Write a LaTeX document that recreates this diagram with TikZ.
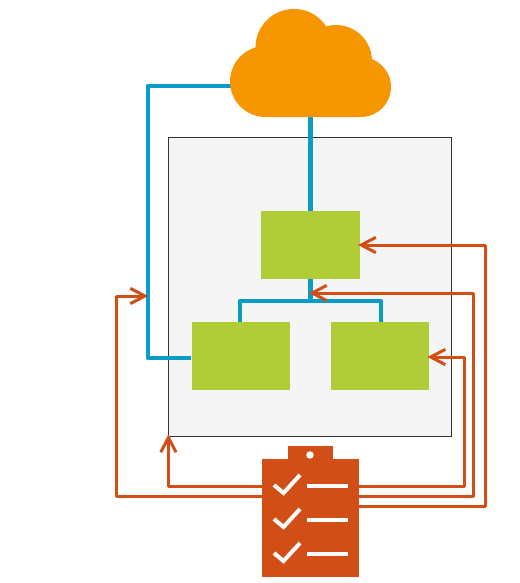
\documentclass[tikz,border=0pt]{standalone}
\usetikzlibrary{arrows.meta,calc}
\definecolor{bluel}{HTML}{0A9CC8}
\definecolor{orangel}{HTML}{D14F17}
\definecolor{cloudc}{HTML}{F59600}
\definecolor{greenb}{HTML}{B0CD37}
\definecolor{panel}{HTML}{F5F5F5}
\definecolor{edge}{HTML}{333333}
\tikzset{
  greenbox/.style={rectangle,fill=greenb,inner sep=0pt,minimum width=74pt,minimum height=51pt},
  panelbox/.style={rectangle,draw=edge,line width=0.75pt,fill=panel,inner sep=0pt,minimum width=212pt,minimum height=224.25pt},
  ghost/.style={rectangle,inner sep=0pt},
  blueline/.style={draw=bluel,line width=3.5pt,line join=round},
  redline/.style={draw=orangel,line width=2.25pt,line join=round},
  redarrow/.style={redline,shorten >=-1.6pt,-{Straight Barb[length=11pt,width=11.5pt,line width=2.25pt]}},
  tick/.style={draw=white,line width=3pt,line join=miter},
  dash line/.style={draw=white,line width=3.6pt}
}
\begin{document}
\begin{tikzpicture}[x=0.75pt,y=-0.75pt]
\useasboundingbox (0,0) rectangle (520,583);
\node[panelbox] (box) at (310.25,286.5) {};
\node[greenbox] (top) at (310.5,245) {};
\node[greenbox] (left) at (241,356) {};
\node[greenbox] (right) at (380,356) {};
\node[ghost,minimum width=120.75pt,minimum height=81pt] (cloud) at (310.5,63) {};
\node[ghost,minimum width=72.4pt,minimum height=88.5pt] (clip) at (310.5,518) {};
\coordinate (cloudport) at (240,86);
\coordinate (bluehit) at (146,296);
\coordinate (trunkhit) at (311,293);
\coordinate (fork) at (310.5,301);
% blue connectors
\draw[blueline] (cloudport) -- (148,86) -- (148,358) -- ([yshift=-1.5pt]left.east -| left.west);
\draw[blueline] (cloud.south) -- (top.north);
\draw[blueline] (top.south) -- (fork);
\draw[blueline] (left.north -| 240,0) -- (240,301) -- (381,301) -- (381,322);
% orange connectors
\draw[redarrow] ([yshift=9pt]clip.east) -- (485,506) -- (485,245) -- (top.east);
\draw[redarrow] ([yshift=16.5pt]clip.east) -- (473.5,496) -- (473.5,293) -- (trunkhit);
\draw[redarrow] ([yshift=24pt]clip.east) -- (464,486) -- (464,357) -- ([yshift=-0.75pt]right.east);
\draw[redarrow] ([yshift=24pt]clip.west) -| (box.south west);
\draw[redarrow] ([yshift=16.5pt]clip.west) -- (116,496) -- (116,296) -- (bluehit);
% cloud
\fill[cloudc] (265.5,81.5) circle[radius=26.6pt] (294,47.5) circle[radius=28.9pt]
  (336,61) circle[radius=27pt] (361,87) circle[radius=22.5pt]
  (266,70) rectangle (361,117);
% clipboard
\fill[orangel] (262.3,459) rectangle (358.7,577);
\fill[orangel] (288,445.7) rectangle (332.7,460);
\fill[white] (310,455) circle[radius=2.8pt];
\foreach \dy in {0,34,68}{
  \draw[tick] (274,{485+\dy}) -- (283.5,{493+\dy}) -- (300,{475+\dy});
  \draw[dash line] (307,{486+\dy}) -- (348,{486+\dy});
}
\end{tikzpicture}
\end{document}
